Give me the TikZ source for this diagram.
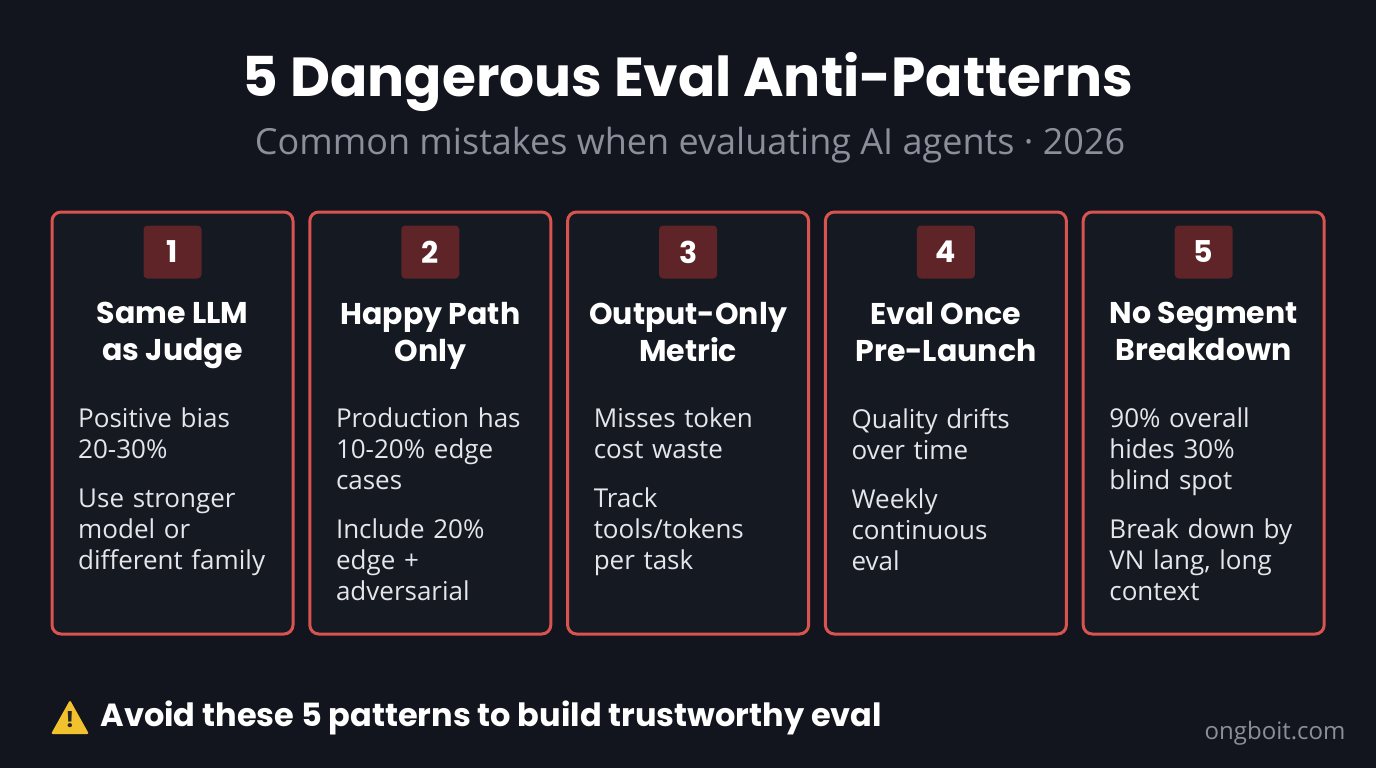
\documentclass[tikz,border=0pt]{standalone}
\usepackage{fontspec}
\setmainfont{Open Sans}
\newfontfamily\headfont{Poppins}
\definecolor{bg}{HTML}{12151E}
\definecolor{cardbg}{HTML}{151922}
\definecolor{cardred}{HTML}{D9534F}
\definecolor{badge}{HTML}{5E2427}
\definecolor{subgray}{HTML}{8A8F99}
\definecolor{bodytxt}{HTML}{E4E6EA}
\definecolor{warn}{HTML}{F2C12E}
\tikzset{
  card/.style={draw=cardred, line width=3pt, fill=cardbg, rounded corners=9pt, minimum width=241pt, minimum height=422pt, inner sep=0pt},
  badgebox/.style={fill=badge, rounded corners=4pt, minimum width=58pt, minimum height=53pt, text=white, font=\headfont\bfseries\fontsize{30}{30}\selectfont, inner sep=0pt},
  heading/.style={text=white, font=\headfont\bfseries\fontsize{30}{37}\selectfont, align=center, anchor=north, inner sep=0pt},
  body/.style={text=bodytxt, font=\fontsize{26}{31}\selectfont, align=left, anchor=north west, text width=225pt, inner sep=0pt},
}
\begin{document}
\begin{tikzpicture}[x=1pt,y=-1pt]
\fill[bg] (0,0) rectangle (1376,768);
\useasboundingbox (0,0) rectangle (1376,768);
\node[text=white, font=\headfont\bfseries\fontsize{55}{55}\selectfont] (title) at (688,82) {5 Dangerous Eval Anti-Patterns};
\node[text=subgray, font=\fontsize{36}{36}\selectfont] (sub) at (690,145) {Common mistakes when evaluating AI agents · 2026};
\foreach \i/\hA/\hB/\body [count=\k from 0] in {
 1/Same LLM/as Judge/{Positive bias\\20-30\%\\[18pt]Use stronger\\model or\\different family},
 2/Happy Path/Only/{Production has\\10-20\% edge\\cases\\[18pt]Include 20\%\\edge +\\adversarial},
 3/Output-Only/Metric/{Misses token\\cost waste\\[18pt]Track\\tools/tokens\\per task},
 4/Eval Once/Pre-Launch/{Quality drifts\\over time\\[18pt]Weekly\\continuous\\eval},
 5/No Segment/Breakdown/{90\% overall\\hides 30\%\\blind spot\\[18pt]Break down by\\VN lang, long\\context}}{
  \pgfmathsetmacro{\xl}{52+257.8*\k}
  \pgfmathsetmacro{\xc}{\xl+120.5}
  \node[card] (c\i) at (\xc,423) {};
  \node[badgebox] (b\i) at (\xc,252) {\i};
  \node[heading] (h\i) at (\xc,302) {\hA\\\hB};
  \node[body] (t\i) at (\xl+26,408) {\body};
}
\fill[warn, rounded corners=2pt] (51,734) -- (70,700) -- (89,734) -- cycle;
\node[font=\headfont\bfseries\fontsize{22}{22}\selectfont, text=black!85] (excl) at (70,720) {!};
\node[text=white, font=\headfont\bfseries\fontsize{32}{32}\selectfont, anchor=west] (foot) at (97,718) {Avoid these 5 patterns to build trustworthy eval};
\node[text=subgray, font=\fontsize{24}{24}\selectfont, anchor=east] (site) at (1349,733) {ongboit.com};
\end{tikzpicture}
\end{document}
